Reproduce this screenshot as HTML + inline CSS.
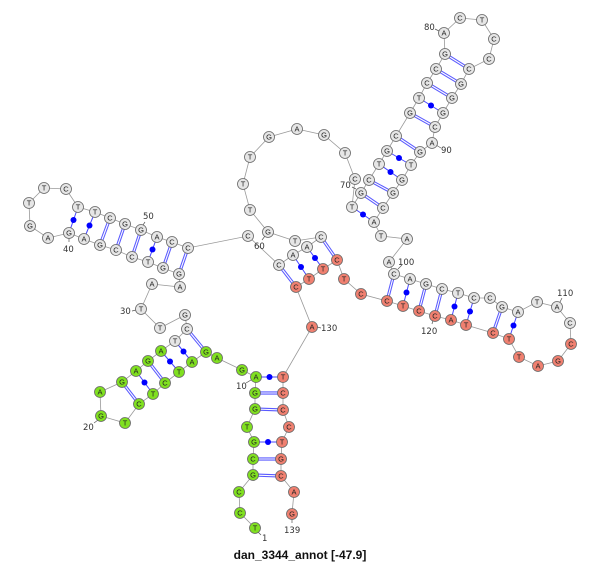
<!DOCTYPE html>
<html><head><meta charset="utf-8"><style>
html,body{margin:0;padding:0;background:#fff}
svg{display:block}
.n circle{stroke:#666;stroke-width:.8}
.g circle{fill:#e6e6e6}.gr circle{fill:#80e020}.r circle{fill:#f08070}
.t text{font-family:"Liberation Sans",sans-serif;font-size:7.5px;text-anchor:middle;fill:#222}
.lab text{font-family:"DejaVu Sans","Liberation Sans",sans-serif;font-size:8.5px;fill:#333}
</style></head><body>
<svg width="600" height="564" viewBox="0 0 600 564" xmlns="http://www.w3.org/2000/svg">
<polyline fill="none" stroke="#999" stroke-width="0.8" points="255,528 240,513 239,492 253,475 253,459 254,442 247,427 255,409 255,393 256,377 242,370 217,358 206,352 192,362 179,372 165,383 153,394 139,404 125,423 101,416 100,392 122,382 136,371 148,361 161,351 175,341 187,329 185,315 160,328 141,309 152,284 180,287 179,274 163,268 148,262 132,257 116,250 100,245 84,239 69,233 48,238 30,226 29,203 44,188 66,189 78,207 95,212 110,218 125,224 141,230 157,237 172,242 188,248 248,236 279,265 293,255 307,247 321,237 295,241 268,232 250,210 243,184 250,157 269,137 297,129 324,135 345,153 355,179 352,207 361,193 369,180 379,164 387,151 396,136 410,113 419,98 427,83 436,69 445,54 444,33 460,18 482,20 494,39 489,59 469,69 461,84 452,98 443,113 435,127 432,143 420,152 411,165 402,180 393,193 383,208 374,222 381,236 407,239 389,262 394,274 410,279 426,284 442,289 458,293 474,298 490,298 502,307 518,312 537,302 557,307 570,323 571,344 558,361 538,366 519,357 509,339 493,333 466,325 451,320 435,316 419,311 403,306 387,301 361,294 344,279 337,260 323,269 309,279 296,287 312,327 283,377 283,393 283,410 289,427 282,442 281,459 281,476 294,492 292,514"/>
<g stroke="#5a5aff" stroke-width="3.2">
<line x1="255" y1="393" x2="283" y2="393"/><line x1="255" y1="409" x2="283" y2="410"/><line x1="253" y1="459" x2="281" y2="459"/><line x1="253" y1="475" x2="281" y2="476"/>
<line x1="206" y1="352" x2="187" y2="329"/><line x1="165" y1="383" x2="148" y2="361"/><line x1="139" y1="404" x2="122" y2="382"/>
<line x1="179" y1="274" x2="188" y2="248"/><line x1="163" y1="268" x2="172" y2="242"/><line x1="132" y1="257" x2="141" y2="230"/><line x1="116" y1="250" x2="125" y2="224"/><line x1="100" y1="245" x2="110" y2="218"/>
<line x1="279" y1="265" x2="296" y2="287"/><line x1="321" y1="237" x2="337" y2="260"/>
<line x1="361" y1="193" x2="383" y2="208"/><line x1="369" y1="180" x2="393" y2="193"/><line x1="396" y1="136" x2="420" y2="152"/><line x1="410" y1="113" x2="435" y2="127"/><line x1="427" y1="83" x2="452" y2="98"/><line x1="436" y1="69" x2="461" y2="84"/><line x1="445" y1="54" x2="469" y2="69"/>
<line x1="394" y1="274" x2="387" y2="301"/><line x1="426" y1="284" x2="419" y2="311"/><line x1="442" y1="289" x2="435" y2="316"/><line x1="502" y1="307" x2="493" y2="333"/>
</g>
<g stroke="#fff" stroke-width="1.1">
<line x1="255" y1="393" x2="283" y2="393"/><line x1="255" y1="409" x2="283" y2="410"/><line x1="253" y1="459" x2="281" y2="459"/><line x1="253" y1="475" x2="281" y2="476"/>
<line x1="206" y1="352" x2="187" y2="329"/><line x1="165" y1="383" x2="148" y2="361"/><line x1="139" y1="404" x2="122" y2="382"/>
<line x1="179" y1="274" x2="188" y2="248"/><line x1="163" y1="268" x2="172" y2="242"/><line x1="132" y1="257" x2="141" y2="230"/><line x1="116" y1="250" x2="125" y2="224"/><line x1="100" y1="245" x2="110" y2="218"/>
<line x1="279" y1="265" x2="296" y2="287"/><line x1="321" y1="237" x2="337" y2="260"/>
<line x1="361" y1="193" x2="383" y2="208"/><line x1="369" y1="180" x2="393" y2="193"/><line x1="396" y1="136" x2="420" y2="152"/><line x1="410" y1="113" x2="435" y2="127"/><line x1="427" y1="83" x2="452" y2="98"/><line x1="436" y1="69" x2="461" y2="84"/><line x1="445" y1="54" x2="469" y2="69"/>
<line x1="394" y1="274" x2="387" y2="301"/><line x1="426" y1="284" x2="419" y2="311"/><line x1="442" y1="289" x2="435" y2="316"/><line x1="502" y1="307" x2="493" y2="333"/>
</g>
<g stroke="#4646ff" stroke-width="1">
<line x1="256" y1="377" x2="283" y2="377"/><line x1="254" y1="442" x2="282" y2="442"/>
<line x1="192" y1="362" x2="175" y2="341"/><line x1="179" y1="372" x2="161" y2="351"/><line x1="153" y1="394" x2="136" y2="371"/>
<line x1="148" y1="262" x2="157" y2="237"/><line x1="84" y1="239" x2="95" y2="212"/><line x1="69" y1="233" x2="78" y2="207"/>
<line x1="293" y1="255" x2="309" y2="279"/><line x1="307" y1="247" x2="323" y2="269"/>
<line x1="352" y1="207" x2="374" y2="222"/><line x1="379" y1="164" x2="402" y2="180"/><line x1="387" y1="151" x2="411" y2="165"/><line x1="419" y1="98" x2="443" y2="113"/>
<line x1="410" y1="279" x2="403" y2="306"/><line x1="458" y1="293" x2="451" y2="320"/><line x1="474" y1="298" x2="466" y2="325"/><line x1="518" y1="312" x2="509" y2="339"/>
</g>
<g fill="#0000ff">
<circle cx="269.5" cy="377" r="3"/><circle cx="268" cy="442" r="3"/>
<circle cx="183.5" cy="351.5" r="3"/><circle cx="170" cy="361.5" r="3"/><circle cx="144.5" cy="382.5" r="3"/>
<circle cx="152.5" cy="249.5" r="3"/><circle cx="89.5" cy="225.5" r="3"/><circle cx="73.5" cy="220" r="3"/>
<circle cx="301" cy="267" r="3"/><circle cx="315" cy="258" r="3"/>
<circle cx="363" cy="214.5" r="3"/><circle cx="390.5" cy="172" r="3"/><circle cx="399" cy="158" r="3"/><circle cx="431" cy="105.5" r="3"/>
<circle cx="406.5" cy="292.5" r="3"/><circle cx="454.5" cy="306.5" r="3"/><circle cx="470" cy="311.5" r="3"/><circle cx="513.5" cy="325.5" r="3"/>
</g>
<g stroke="#555" stroke-width="0.7">
<line x1="258" y1="532" x2="261" y2="535"/><line x1="251" y1="380" x2="246" y2="383"/><line x1="98" y1="420" x2="94" y2="423"/><line x1="136" y1="310" x2="132" y2="311"/><line x1="69" y1="238" x2="69" y2="242"/><line x1="143" y1="225" x2="145" y2="222"/><line x1="265" y1="236" x2="262" y2="240"/><line x1="356" y1="189" x2="352" y2="187"/><line x1="439" y1="31" x2="435" y2="29"/><line x1="436" y1="145" x2="441" y2="148"/><line x1="398" y1="269" x2="402" y2="265"/><line x1="560" y1="302" x2="562" y2="298"/><line x1="433" y1="320" x2="432" y2="324"/><line x1="317" y1="327" x2="321" y2="328"/><line x1="292" y1="519" x2="292" y2="523"/>
</g>
<g class="n t">
<g class="gr">
<circle cx="255" cy="528" r="5.5"/><circle cx="240" cy="513" r="5.5"/><circle cx="239" cy="492" r="5.5"/><circle cx="253" cy="475" r="5.5"/><circle cx="253" cy="459" r="5.5"/><circle cx="254" cy="442" r="5.5"/><circle cx="247" cy="427" r="5.5"/><circle cx="255" cy="409" r="5.5"/><circle cx="255" cy="393" r="5.5"/><circle cx="256" cy="377" r="5.5"/><circle cx="242" cy="370" r="5.5"/><circle cx="217" cy="358" r="5.5"/><circle cx="206" cy="352" r="5.5"/><circle cx="192" cy="362" r="5.5"/><circle cx="179" cy="372" r="5.5"/><circle cx="165" cy="383" r="5.5"/><circle cx="153" cy="394" r="5.5"/><circle cx="139" cy="404" r="5.5"/><circle cx="125" cy="423" r="5.5"/><circle cx="101" cy="416" r="5.5"/><circle cx="100" cy="392" r="5.5"/><circle cx="122" cy="382" r="5.5"/><circle cx="136" cy="371" r="5.5"/><circle cx="148" cy="361" r="5.5"/><circle cx="161" cy="351" r="5.5"/>
</g>
<g class="g">
<circle cx="175" cy="341" r="5.5"/><circle cx="187" cy="329" r="5.5"/><circle cx="185" cy="315" r="5.5"/><circle cx="160" cy="328" r="5.5"/><circle cx="141" cy="309" r="5.5"/><circle cx="152" cy="284" r="5.5"/><circle cx="180" cy="287" r="5.5"/><circle cx="179" cy="274" r="5.5"/><circle cx="163" cy="268" r="5.5"/><circle cx="148" cy="262" r="5.5"/><circle cx="132" cy="257" r="5.5"/><circle cx="116" cy="250" r="5.5"/><circle cx="100" cy="245" r="5.5"/><circle cx="84" cy="239" r="5.5"/><circle cx="69" cy="233" r="5.5"/><circle cx="48" cy="238" r="5.5"/><circle cx="30" cy="226" r="5.5"/><circle cx="29" cy="203" r="5.5"/><circle cx="44" cy="188" r="5.5"/><circle cx="66" cy="189" r="5.5"/><circle cx="78" cy="207" r="5.5"/><circle cx="95" cy="212" r="5.5"/><circle cx="110" cy="218" r="5.5"/><circle cx="125" cy="224" r="5.5"/><circle cx="141" cy="230" r="5.5"/><circle cx="157" cy="237" r="5.5"/><circle cx="172" cy="242" r="5.5"/><circle cx="188" cy="248" r="5.5"/><circle cx="248" cy="236" r="5.5"/><circle cx="279" cy="265" r="5.5"/><circle cx="293" cy="255" r="5.5"/><circle cx="307" cy="247" r="5.5"/><circle cx="321" cy="237" r="5.5"/><circle cx="295" cy="241" r="5.5"/><circle cx="268" cy="232" r="5.5"/><circle cx="250" cy="210" r="5.5"/><circle cx="243" cy="184" r="5.5"/><circle cx="250" cy="157" r="5.5"/><circle cx="269" cy="137" r="5.5"/><circle cx="297" cy="129" r="5.5"/><circle cx="324" cy="135" r="5.5"/><circle cx="345" cy="153" r="5.5"/><circle cx="355" cy="179" r="5.5"/><circle cx="352" cy="207" r="5.5"/><circle cx="361" cy="193" r="5.5"/><circle cx="369" cy="180" r="5.5"/><circle cx="379" cy="164" r="5.5"/><circle cx="387" cy="151" r="5.5"/><circle cx="396" cy="136" r="5.5"/><circle cx="410" cy="113" r="5.5"/><circle cx="419" cy="98" r="5.5"/><circle cx="427" cy="83" r="5.5"/><circle cx="436" cy="69" r="5.5"/><circle cx="445" cy="54" r="5.5"/><circle cx="444" cy="33" r="5.5"/><circle cx="460" cy="18" r="5.5"/><circle cx="482" cy="20" r="5.5"/><circle cx="494" cy="39" r="5.5"/><circle cx="489" cy="59" r="5.5"/><circle cx="469" cy="69" r="5.5"/><circle cx="461" cy="84" r="5.5"/><circle cx="452" cy="98" r="5.5"/><circle cx="443" cy="113" r="5.5"/><circle cx="435" cy="127" r="5.5"/><circle cx="432" cy="143" r="5.5"/><circle cx="420" cy="152" r="5.5"/><circle cx="411" cy="165" r="5.5"/><circle cx="402" cy="180" r="5.5"/><circle cx="393" cy="193" r="5.5"/><circle cx="383" cy="208" r="5.5"/><circle cx="374" cy="222" r="5.5"/><circle cx="381" cy="236" r="5.5"/><circle cx="407" cy="239" r="5.5"/><circle cx="389" cy="262" r="5.5"/><circle cx="394" cy="274" r="5.5"/><circle cx="410" cy="279" r="5.5"/><circle cx="426" cy="284" r="5.5"/><circle cx="442" cy="289" r="5.5"/><circle cx="458" cy="293" r="5.5"/><circle cx="474" cy="298" r="5.5"/><circle cx="490" cy="298" r="5.5"/><circle cx="502" cy="307" r="5.5"/><circle cx="518" cy="312" r="5.5"/><circle cx="537" cy="302" r="5.5"/><circle cx="557" cy="307" r="5.5"/><circle cx="570" cy="323" r="5.5"/>
</g>
<g class="r">
<circle cx="571" cy="344" r="5.5"/><circle cx="558" cy="361" r="5.5"/><circle cx="538" cy="366" r="5.5"/><circle cx="519" cy="357" r="5.5"/><circle cx="509" cy="339" r="5.5"/><circle cx="493" cy="333" r="5.5"/><circle cx="466" cy="325" r="5.5"/><circle cx="451" cy="320" r="5.5"/><circle cx="435" cy="316" r="5.5"/><circle cx="419" cy="311" r="5.5"/><circle cx="403" cy="306" r="5.5"/><circle cx="387" cy="301" r="5.5"/><circle cx="361" cy="294" r="5.5"/><circle cx="344" cy="279" r="5.5"/><circle cx="337" cy="260" r="5.5"/><circle cx="323" cy="269" r="5.5"/><circle cx="309" cy="279" r="5.5"/><circle cx="296" cy="287" r="5.5"/><circle cx="312" cy="327" r="5.5"/><circle cx="283" cy="377" r="5.5"/><circle cx="283" cy="393" r="5.5"/><circle cx="283" cy="410" r="5.5"/><circle cx="289" cy="427" r="5.5"/><circle cx="282" cy="442" r="5.5"/><circle cx="281" cy="459" r="5.5"/><circle cx="281" cy="476" r="5.5"/><circle cx="294" cy="492" r="5.5"/><circle cx="292" cy="514" r="5.5"/>
</g>
<g transform="translate(0,2.7)">
<text x="255" y="528">T</text><text x="240" y="513">C</text><text x="239" y="492">C</text><text x="253" y="475">G</text><text x="253" y="459">C</text><text x="254" y="442">G</text><text x="247" y="427">T</text><text x="255" y="409">G</text><text x="255" y="393">G</text><text x="256" y="377">A</text><text x="242" y="370">G</text><text x="217" y="358">A</text><text x="206" y="352">G</text><text x="192" y="362">A</text><text x="179" y="372">T</text><text x="165" y="383">C</text><text x="153" y="394">T</text><text x="139" y="404">C</text><text x="125" y="423">T</text><text x="101" y="416">G</text><text x="100" y="392">A</text><text x="122" y="382">G</text><text x="136" y="371">A</text><text x="148" y="361">G</text><text x="161" y="351">A</text>
<text x="175" y="341">T</text><text x="187" y="329">C</text><text x="185" y="315">G</text><text x="160" y="328">T</text><text x="141" y="309">T</text><text x="152" y="284">A</text><text x="180" y="287">A</text><text x="179" y="274">G</text><text x="163" y="268">G</text><text x="148" y="262">T</text><text x="132" y="257">C</text><text x="116" y="250">C</text><text x="100" y="245">G</text><text x="84" y="239">A</text><text x="69" y="233">G</text><text x="48" y="238">A</text><text x="30" y="226">G</text><text x="29" y="203">T</text><text x="44" y="188">T</text><text x="66" y="189">C</text><text x="78" y="207">T</text><text x="95" y="212">T</text><text x="110" y="218">C</text><text x="125" y="224">G</text><text x="141" y="230">G</text><text x="157" y="237">A</text><text x="172" y="242">C</text><text x="188" y="248">C</text><text x="248" y="236">C</text><text x="279" y="265">C</text><text x="293" y="255">A</text><text x="307" y="247">A</text><text x="321" y="237">C</text><text x="295" y="241">T</text><text x="268" y="232">G</text><text x="250" y="210">T</text><text x="243" y="184">T</text><text x="250" y="157">T</text><text x="269" y="137">G</text><text x="297" y="129">A</text><text x="324" y="135">G</text><text x="345" y="153">T</text><text x="355" y="179">C</text><text x="352" y="207">T</text><text x="361" y="193">G</text><text x="369" y="180">C</text><text x="379" y="164">T</text><text x="387" y="151">G</text><text x="396" y="136">C</text><text x="410" y="113">G</text><text x="419" y="98">T</text><text x="427" y="83">C</text><text x="436" y="69">C</text><text x="445" y="54">G</text><text x="444" y="33">A</text><text x="460" y="18">C</text><text x="482" y="20">T</text><text x="494" y="39">C</text><text x="489" y="59">C</text><text x="469" y="69">C</text><text x="461" y="84">G</text><text x="452" y="98">G</text><text x="443" y="113">G</text><text x="435" y="127">C</text><text x="432" y="143">A</text><text x="420" y="152">G</text><text x="411" y="165">T</text><text x="402" y="180">G</text><text x="393" y="193">G</text><text x="383" y="208">C</text><text x="374" y="222">A</text><text x="381" y="236">T</text><text x="407" y="239">A</text><text x="389" y="262">A</text><text x="394" y="274">C</text><text x="410" y="279">A</text><text x="426" y="284">G</text><text x="442" y="289">C</text><text x="458" y="293">T</text><text x="474" y="298">C</text><text x="490" y="298">C</text><text x="502" y="307">G</text><text x="518" y="312">A</text><text x="537" y="302">T</text><text x="557" y="307">A</text><text x="570" y="323">C</text>
<text x="571" y="344">C</text><text x="558" y="361">G</text><text x="538" y="366">A</text><text x="519" y="357">T</text><text x="509" y="339">T</text><text x="493" y="333">C</text><text x="466" y="325">T</text><text x="451" y="320">A</text><text x="435" y="316">C</text><text x="419" y="311">C</text><text x="403" y="306">T</text><text x="387" y="301">C</text><text x="361" y="294">C</text><text x="344" y="279">T</text><text x="337" y="260">C</text><text x="323" y="269">T</text><text x="309" y="279">T</text><text x="296" y="287">C</text><text x="312" y="327">A</text><text x="283" y="377">T</text><text x="283" y="393">C</text><text x="283" y="410">C</text><text x="289" y="427">C</text><text x="282" y="442">T</text><text x="281" y="459">G</text><text x="281" y="476">C</text><text x="294" y="492">A</text><text x="292" y="514">G</text>
</g>
</g>
<g class="lab">
<text x="262" y="541">1</text><text x="236" y="389">10</text><text x="83" y="430">20</text><text x="120" y="314">30</text><text x="63" y="252">40</text><text x="143" y="219">50</text><text x="254" y="249">60</text><text x="340" y="188">70</text><text x="424" y="30">80</text><text x="441" y="153">90</text><text x="398" y="265">100</text><text x="557" y="296">110</text><text x="421" y="334">120</text><text x="321" y="331">130</text><text x="284" y="533">139</text>
</g>
<text x="300" y="559" text-anchor="middle" font-family="Liberation Sans, sans-serif" font-size="12" font-weight="bold" fill="#111">dan_3344_annot [-47.9]</text>
</svg>
</body></html>
